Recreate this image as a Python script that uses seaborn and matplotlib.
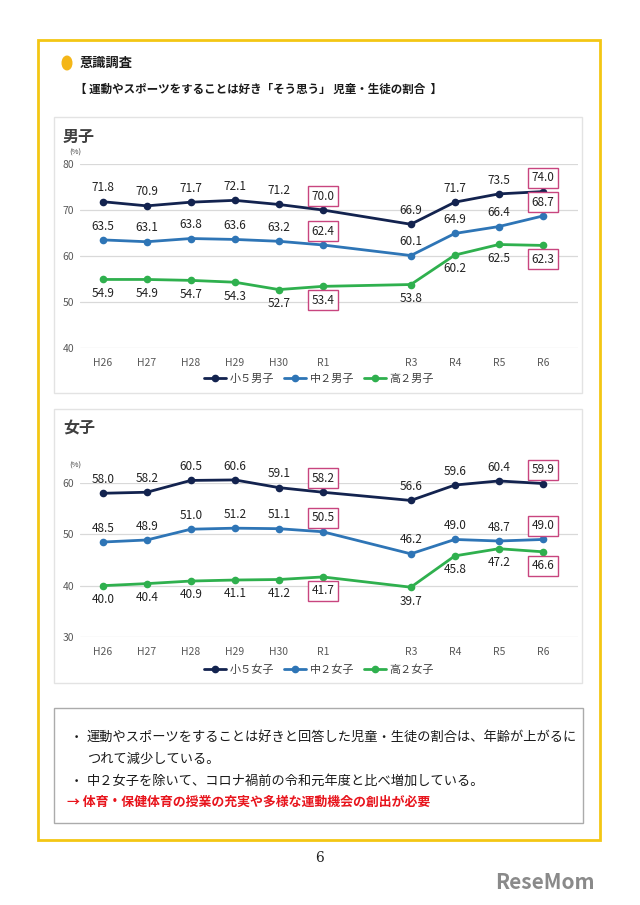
import matplotlib.pyplot as plt
import matplotlib.patches as mpatches
import numpy as np
import pandas as pd
import seaborn as sns

sns.set_theme(style="white")
plt.rcParams['font.family'] = ['Noto Sans CJK JP', 'DejaVu Sans']

# fiscal years (R2 was not surveyed, the slot stays empty)
fiscal_years = [2014, 2015, 2016, 2017, 2018, 2019, 2021, 2022, 2023, 2024]
year_labels = ["H26", "H27", "H28", "H29", "H30", "R1", "R3", "R4", "R5", "R6"]

boys_names = ["小５男子", "中２男子", "高２男子"]
boys_sho5 = [71.8, 70.9, 71.7, 72.1, 71.2, 70.0, 66.9, 71.7, 73.5, 74.0]
boys_chu2 = [63.5, 63.1, 63.8, 63.6, 63.2, 62.4, 60.1, 64.9, 66.4, 68.7]
boys_ko2 = [54.9, 54.9, 54.7, 54.3, 52.7, 53.4, 53.8, 60.2, 62.5, 62.3]

girls_names = ["小５女子", "中２女子", "高２女子"]
girls_sho5 = [58.0, 58.2, 60.5, 60.6, 59.1, 58.2, 56.6, 59.6, 60.4, 59.9]
girls_chu2 = [48.5, 48.9, 51.0, 51.2, 51.1, 50.5, 46.2, 49.0, 48.7, 49.0]
girls_ko2 = [40.0, 40.4, 40.9, 41.1, 41.2, 41.7, 39.7, 45.8, 47.2, 46.6]

boxed_years = ["R1", "R6"]
colors = ["#13234f", "#2e75b6", "#2fb04e"]


def to_long(names, series):
    rows = []
    for name, vals in zip(names, series):
        for yr, lab, v in zip(fiscal_years, year_labels, vals):
            rows.append({"year": yr, "label": lab, "group": name, "value": v})
    return pd.DataFrame(rows)


def draw_panel(ax, df, names, ylim, yticks, pct_offset, legend_y):
    sns.lineplot(data=df, x="year", y="value", hue="group", hue_order=names,
                 palette=colors, marker="o", markersize=5.5, markeredgewidth=0,
                 linewidth=2, legend=False, clip_on=False, ax=ax)
    ax.set_xlim(2013.48, 2024.8)
    ax.set_ylim(*ylim)
    ax.set_yticks(yticks)
    ax.set_xticks(fiscal_years)
    ax.set_xticklabels(year_labels)
    ax.tick_params(axis="both", labelsize=7.5, labelcolor="#595959", length=0)
    ax.tick_params(axis="x", pad=7)
    ax.tick_params(axis="y", pad=4)
    ax.grid(axis="y", color="#d9d9d9", linewidth=0.9)
    ax.grid(axis="x", visible=False)
    sns.despine(ax=ax, left=True, bottom=True, top=True, right=True)
    ax.set_xlabel("")
    ax.set_ylabel("")
    ax.text(-0.01, 1 + pct_offset, "(%)", transform=ax.transAxes,
            fontsize=5.5, color="#404040", ha="center", va="center")

    # data labels
    for i, name in enumerate(names):
        sub = df[df["group"] == name]
        dy = 10 if i < 2 else -10
        for _, r in sub.iterrows():
            boxed = r["label"] in boxed_years
            bbox = dict(boxstyle="square,pad=0.3", fc="white", ec="#c8457f", lw=1) if boxed else None
            ax.annotate(f"{r['value']:.1f}", (r["year"], r["value"]),
                        xytext=(0, dy), textcoords="offset points",
                        ha="center", va="center", fontsize=8.5,
                        color="#222222", bbox=bbox, annotation_clip=False)

    handles = [plt.Line2D([], [], color=c, marker="o", markersize=4.5, lw=2) for c in colors]
    ax.legend(handles, names, loc="center", ncol=3, frameon=False, fontsize=8,
              handlelength=2.0, handletextpad=0.3, columnspacing=0.9,
              labelcolor="#404040", bbox_to_anchor=(0.48, legend_y))


fig = plt.figure(figsize=(6.4, 9.05), dpi=100)
W, H = 640, 905


def fx(px):
    return px / W


def fy(py):
    return 1 - py / H


def frame(x0, y0, x1, y1, ec, lw):
    fig.add_artist(mpatches.Rectangle((fx(x0), fy(y1)), fx(x1) - fx(x0), fy(y0) - fy(y1),
                                      transform=fig.transFigure, fill=False, ec=ec, lw=lw))


# outer yellow frame and panel boxes
frame(38, 40, 600, 840, "#f3c614", 2)
frame(54, 117, 582, 393, "#e3e3e3", 1)
frame(54, 409, 582, 683, "#e3e3e3", 1)
frame(54, 708, 583, 823, "#ababab", 1)

# headers
fig.add_artist(mpatches.Circle((fx(67), fy(63)), 0.0075, transform=fig.transFigure,
                               color="#f4b617"))
fig.text(fx(80), fy(63), "意識調査", fontsize=9.5, fontweight="bold", va="center", color="#1a1a1a")
fig.text(fx(75), fy(89), "【 運動やスポーツをすることは好き「そう思う」 児童・生徒の割合  】",
         fontsize=8.3, fontweight="bold", va="center", color="#1a1a1a")

# boys panel
ax1 = fig.add_axes([fx(80), fy(348), fx(578) - fx(80), fy(164) - fy(348)])
df_boys = to_long(boys_names, [boys_sho5, boys_chu2, boys_ko2])
draw_panel(ax1, df_boys, boys_names, (40, 80), [40, 50, 60, 70, 80], 0.06, -0.17)
fig.text(fx(63), fy(137), "男子", fontsize=11.5, fontweight="bold", color="#404040", va="center")

# girls panel
ax2 = fig.add_axes([fx(80), fy(637), fx(578) - fx(80), fy(483) - fy(637)])
df_girls = to_long(girls_names, [girls_sho5, girls_chu2, girls_ko2])
draw_panel(ax2, df_girls, girls_names, (30, 60), [30, 40, 50, 60], 0.115, -0.21)
fig.text(fx(63), fy(428), "女子", fontsize=11.5, fontweight="bold", color="#404040", va="center")

# notes
note_kw = dict(fontsize=9.5, va="center", color="#1a1a1a")
fig.text(fx(70), fy(737), "・", **note_kw)
fig.text(fx(87), fy(737), "運動やスポーツをすることは好きと回答した児童・生徒の割合は、年齢が上がるに",
         **note_kw)
fig.text(fx(87), fy(759), "つれて減少している。", **note_kw)
fig.text(fx(70), fy(781), "・", **note_kw)
fig.text(fx(87), fy(781), "中２女子を除いて、コロナ禍前の令和元年度と比べ増加している。", **note_kw)
fig.text(fx(67), fy(802), "→ 体育・保健体育の授業の充実や多様な運動機会の創出が必要",
         fontsize=9.3, fontweight="bold", va="center", color="#e8141c")

# page number and watermark
fig.text(fx(320), fy(858), "6", fontsize=10, family="DejaVu Serif", ha="center", va="center",
         color="#222222")
fig.text(fx(595), fy(882), "ReseMom", fontsize=15, fontweight="bold", ha="right", va="center",
         color="#8a8a8a")

fig.savefig("out.png", dpi=100)
